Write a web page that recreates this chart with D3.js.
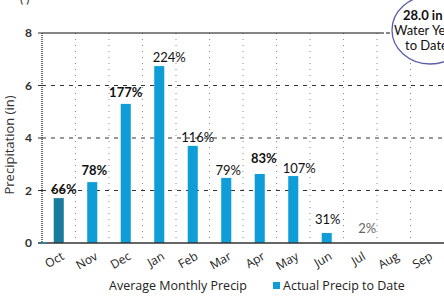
<!DOCTYPE html>
<html><head><meta charset="utf-8">
<script src="https://cdn.jsdelivr.net/npm/d3@7"></script>
<style>body{margin:0;background:#fff}svg{display:block}</style>
</head><body>
<svg id="c" width="444" height="296"></svg>
<script>
const months = ["Oct","Nov","Dec","Jan","Feb","Mar","Apr","May","Jun","Jul","Aug","Sep"];
const actual = [1.71,2.32,5.3,6.74,3.7,2.48,2.63,2.55,0.38,0.02,null,null];
const pctLabels = ["66%","78%","177%","224%","116%","79%","83%","107%","31%","2%","",""];
const yTicks = [0,2,4,6,8];
const bubbleLines = ["28.0 in","Water Year","to Date"];

const svg = d3.select("#c");
const L = 42, R = 444, T = 33, B = 243;
const x = d3.scaleBand().domain(months).range([L, L + 12*33.5]).paddingInner(0.7).paddingOuter(0.35);
const xb = d3.scaleBand().domain(months).range([L, L + 12*33.5]);
const y = d3.scaleLinear().domain([0,8]).range([B, T]);

// faint cut-off title marks
svg.append("text").attr("x",20).attr("y",3).attr("font-family","Lato").attr("font-size",12).attr("fill","#222").text("( )");

// horizontal grid
svg.append("g").selectAll("line").data([2,4,6]).join("line")
  .attr("x1",L).attr("x2",R).attr("y1",d=>y(d)).attr("y2",d=>y(d))
  .attr("stroke","#333").attr("stroke-width",1).attr("stroke-dasharray","4,5");
// vertical grid
svg.append("g").selectAll("line").data(months.slice(1)).join("line")
  .attr("x1",d=>xb(d)).attr("x2",d=>xb(d)).attr("y1",T).attr("y2",B)
  .attr("stroke","#888").attr("stroke-width",1).attr("stroke-dasharray","1,5");
// top line
svg.append("line").attr("x1",L).attr("x2",380).attr("y1",T).attr("y2",T).attr("stroke","#111").attr("stroke-width",1.2);
svg.append("line").attr("x1",380).attr("x2",394).attr("y1",T).attr("y2",T).attr("stroke","#111").attr("stroke-dasharray","4,2");
// left axis dotted
svg.append("line").attr("x1",L).attr("x2",L).attr("y1",T).attr("y2",B).attr("stroke","#111").attr("stroke-width",1.2).attr("stroke-dasharray","1,1");

// bars
svg.append("g").selectAll("rect").data(months.map((m,i)=>({m,v:actual[i],i})).filter(d=>d.v!=null && d.v>0.05)).join("rect")
  .attr("x",d=>x(d.m)).attr("width",x.bandwidth())
  .attr("y",d=>y(d.v)).attr("height",d=>B-y(d.v))
  .attr("fill",d=>d.i===0?"#1b7b9c":"#0f9dd7");

// bottom axis
svg.append("line").attr("x1",L).attr("x2",R).attr("y1",B).attr("y2",B).attr("stroke","#333").attr("stroke-width",1.5);
svg.append("line").attr("x1",L-4).attr("x2",L+4).attr("y1",B).attr("y2",B).attr("stroke","#2a8fb8").attr("stroke-width",1.5);

// pct labels
const offs = [{dx:5,dy:-4},{dx:2,dy:-7},{dx:0,dy:-7},{dx:10,dy:-4},{dx:5,dy:-4},{dx:2,dy:-3},{dx:4,dy:-11},{dx:6,dy:-3},{dx:1,dy:-9},{dx:7,dy:0}];
svg.append("g").selectAll("text").data(months.map((m,i)=>({m,i,t:pctLabels[i],v:actual[i]})).filter(d=>d.t)).join("text")
  .attr("x",d=>x(d.m)+x.bandwidth()/2+offs[d.i].dx)
  .attr("y",d=>(d.i===9?y(0)-10:y(d.v))+offs[d.i].dy)
  .attr("text-anchor","middle").attr("font-family","Lato")
  .attr("font-size",13).attr("font-weight",d=>[0,1,2,6].includes(d.i)?"bold":"normal")
  .attr("fill",d=>d.i===9?"#666":"#111").text(d=>d.t);

// y tick labels
svg.append("g").selectAll("text").data(yTicks).join("text")
  .attr("x",32).attr("y",d=>y(d)+4).attr("text-anchor","end")
  .attr("font-family","Lato").attr("font-weight","bold").attr("font-size",12).attr("fill","#333").text(d=>d);
svg.append("g").selectAll("line").data(yTicks).join("line")
  .attr("x1",L-4).attr("x2",L).attr("y1",d=>y(d)).attr("y2",d=>y(d)).attr("stroke","#333");

// y title
svg.append("text").attr("transform","translate(14,145) rotate(-90)").attr("text-anchor","middle")
  .attr("font-family","Open Sans").attr("font-size",13).attr("fill","#333").text("Precipitation (in)");

// x tick labels
svg.append("g").selectAll("text").data(months).join("text")
  .attr("transform",d=>`translate(${xb(d)+xb.bandwidth()/2+4},${B+12}) rotate(-30)`)
  .attr("text-anchor","end").attr("dy","0.35em")
  .attr("font-family","Open Sans").attr("font-size",12).attr("fill","#222").text(d=>d);

// x title & legend
svg.append("text").attr("x",109).attr("y",290).attr("font-family","Open Sans").attr("font-size",12.5).attr("fill","#222").text("Average Monthly Precip");
svg.append("rect").attr("x",273).attr("y",282).attr("width",7).attr("height",7).attr("fill","#0f9dd7");
svg.append("text").attr("x",283).attr("y",290).attr("font-family","Open Sans").attr("font-size",12.5).attr("fill","#222").text("Actual Precip to Date");

// bubble
svg.append("ellipse").attr("cx",430).attr("cy",30).attr("rx",38).attr("ry",34)
  .attr("fill","#fff").attr("stroke","#5b5ea6").attr("stroke-width",1.3);
svg.append("g").selectAll("text").data(bubbleLines).join("text")
  .attr("x",d=>d==="28.0 in"?403:(d==="to Date"?405:394)).attr("y",(d,i)=>20+i*15)
  .attr("font-family","Lato").attr("font-weight",d=>d==="28.0 in"?"bold":"normal")
  .attr("font-size",13).attr("fill","#111").text(d=>d);
</script>
</body></html>
